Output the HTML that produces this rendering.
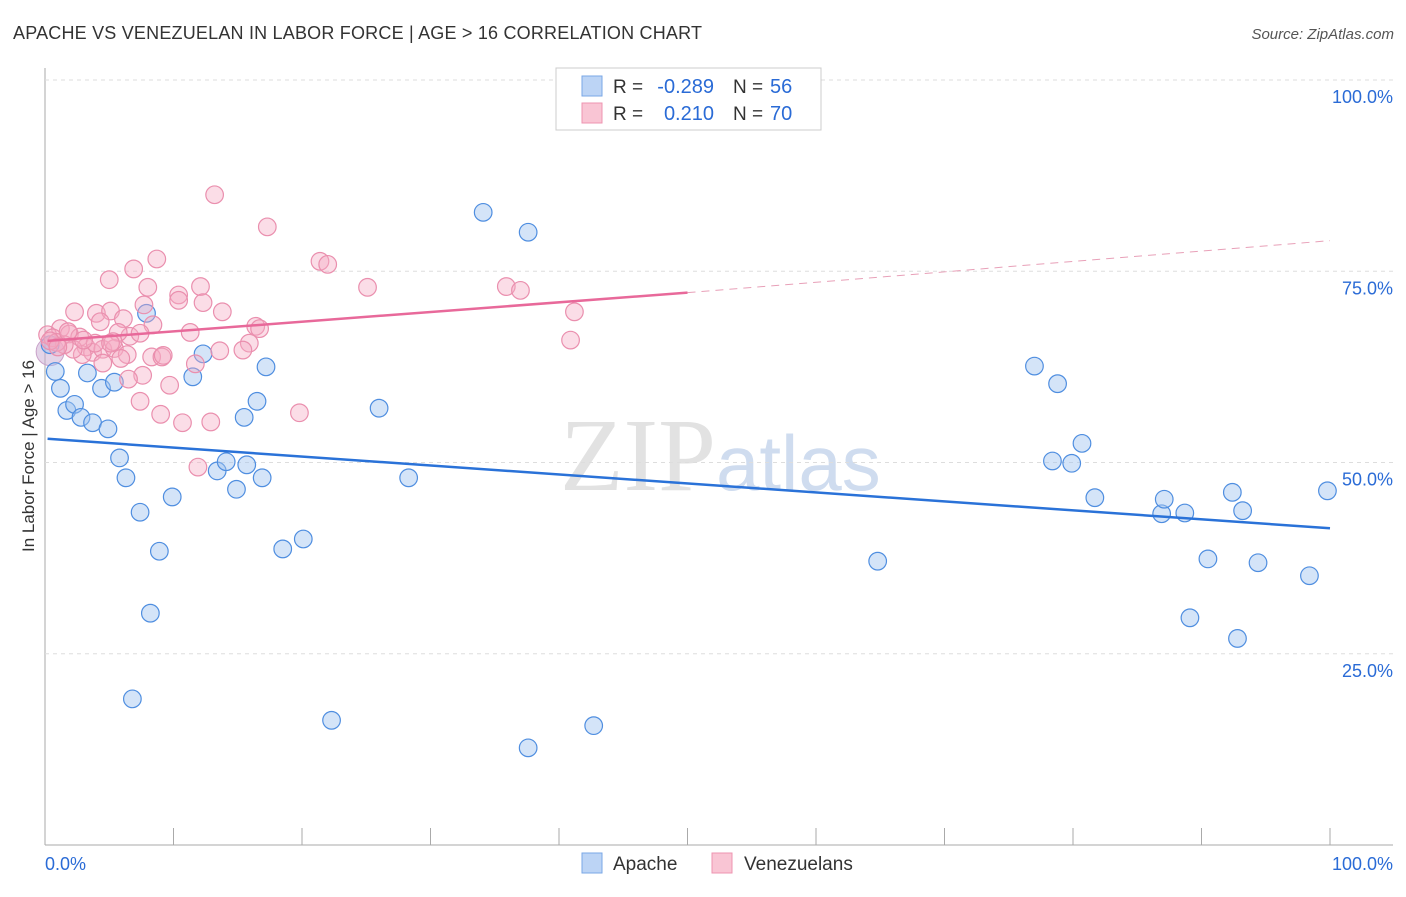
<!DOCTYPE html>
<html><head><meta charset="utf-8"><style>
body{margin:0;background:#fff;font-family:"Liberation Sans",sans-serif}
</style></head><body>
<svg id="c" width="1406" height="892" xmlns="http://www.w3.org/2000/svg">
<text x="13" y="39" font-size="18" fill="#333" textLength="689">APACHE VS VENEZUELAN IN LABOR FORCE | AGE &gt; 16 CORRELATION CHART</text>
<text x="1394" y="39" font-size="15" fill="#555" font-style="italic" text-anchor="end">Source: ZipAtlas.com</text>
<text x="716" y="490" font-size="104" fill="#e2e2e2" text-anchor="end" font-family="Liberation Serif,serif">ZIP</text>
<text x="716" y="490" font-size="78" fill="#cfdcef">atlas</text>
<g id="grid"></g>
<g id="pts"></g>
<g id="lines"></g>
<text transform="translate(34,456) rotate(-90)" font-size="17" fill="#333" text-anchor="middle">In Labor Force | Age &gt; 16</text>
<g>
<rect x="556" y="68" width="265" height="62" fill="#fff" stroke="#ccc"/>
<rect x="582" y="76" width="20" height="20" fill="#bcd4f5" stroke="#7aa7e6"/>
<rect x="582" y="103" width="20" height="20" fill="#f9c5d4" stroke="#ee94b0"/>
<text x="613" y="93" font-size="19" fill="#333">R =</text>
<text x="714" y="93" font-size="20" fill="#2a6bd6" text-anchor="end">-0.289</text>
<text x="733" y="93" font-size="19" fill="#333">N =</text>
<text x="770" y="93" font-size="20" fill="#2a6bd6">56</text>
<text x="613" y="120" font-size="19" fill="#333">R =</text>
<text x="714" y="120" font-size="20" fill="#2a6bd6" text-anchor="end">0.210</text>
<text x="733" y="120" font-size="19" fill="#333">N =</text>
<text x="770" y="120" font-size="20" fill="#2a6bd6">70</text>
</g>
<g>
<rect x="582" y="853" width="20" height="20" fill="#bcd4f5" stroke="#7aa7e6"/>
<text x="613" y="870" font-size="19" fill="#333">Apache</text>
<rect x="712" y="853" width="20" height="20" fill="#f9c5d4" stroke="#ee94b0"/>
<text x="744" y="870" font-size="19" fill="#333">Venezuelans</text>
</g>
<text x="45" y="870" font-size="18" fill="#2a6bd6">0.0%</text>
<text x="1393" y="870" font-size="18" fill="#2a6bd6" text-anchor="end">100.0%</text>
</svg>
<script>
const yTicks=[100,75,50,25];
const yTickLabels=["100.0%","75.0%","50.0%","25.0%"];
const xTicks=[0,10,20,30,40,50,60,70,80,90,100];
const apacheX=[0.8,1.2,1.7,2.3,2.8,3.3,3.7,4.4,4.9,5.4,5.8,6.3,7.4,7.9,8.2,8.9,9.9,11.5,12.3,13.4,14.1,14.9,15.5,15.7,16.5,16.9,17.2,18.5,20.1,22.3,6.8,26.0,28.3,34.1,37.6,37.6,42.7,64.8,77.0,78.4,78.8,79.9,80.7,81.7,86.9,87.1,88.7,89.1,90.5,92.4,92.8,93.2,94.4,98.4,99.8,0.4];
const apacheY=[61.9,59.7,56.8,57.6,55.9,61.7,55.2,59.7,54.4,60.5,50.6,48.0,43.5,69.5,30.3,38.4,45.5,61.2,64.2,48.9,50.1,46.5,55.9,49.7,58.0,48.0,62.5,38.7,40.0,16.3,19.1,57.1,48.0,82.7,80.1,12.7,15.6,37.1,62.6,50.2,60.3,49.9,52.5,45.4,43.3,45.2,43.4,29.7,37.4,46.1,27.0,43.7,36.9,35.2,46.3,65.4];
const venX=[13.2,17.3,8.7,6.9,5.0,21.4,22.0,25.1,35.9,37.0,12.1,8.0,10.4,10.4,12.3,7.7,13.8,2.3,4.0,5.1,6.1,8.4,4.3,16.4,16.7,11.3,1.2,1.9,0.2,0.6,2.7,6.6,5.7,41.2,40.9,15.9,15.4,13.6,3.2,3.7,4.5,5.4,6.4,8.3,9.1,9.2,11.7,4.5,5.9,2.9,2.2,1.5,0.9,0.4,7.6,6.5,9.7,7.4,19.8,12.9,9.0,10.7,11.9,5.3,7.4,1.0,3.9,1.8,3.0,5.1];
const venY=[85.0,80.8,76.6,75.3,73.9,76.3,75.9,72.9,73.0,72.5,73.0,72.9,71.9,71.2,70.9,70.6,69.7,69.7,69.5,69.8,68.8,68.0,68.4,67.8,67.5,67.0,67.5,66.8,66.7,66.3,66.4,66.5,67.0,69.7,66.0,65.6,64.7,64.6,65.1,64.4,64.8,64.9,64.1,63.8,63.8,64.0,62.9,63.0,63.6,64.1,64.8,65.4,65.7,65.9,61.4,60.9,60.1,58.0,56.5,55.3,56.3,55.2,49.4,65.8,66.9,65.1,65.6,67.1,66.0,65.6];
const blueTrend=[[0.2,53.1],[100,41.4]];
const pinkTrend=[[0.2,65.9],[50,72.2],[100,79.0]];
const sx=v=>45+v*12.85, sy=v=>845-v*7.65;
const NS="http://www.w3.org/2000/svg";
function mk(t,a,p){const e=document.createElementNS(NS,t);for(const k in a)e.setAttribute(k,a[k]);p.appendChild(e);return e;}
const g=document.getElementById('grid'),P=document.getElementById('pts'),L=document.getElementById('lines');
let ax=mk('line',{x1:45,y1:68,x2:45,y2:845,stroke:'#aaa'},g);


let bx=mk('line',{x1:45,y1:845,x2:1393,y2:845,stroke:'#aaa'},g);


yTicks.forEach((v,i)=>{
 let l=mk('line',{x1:45,y1:sy(v),x2:1393,y2:sy(v),stroke:'#ddd','stroke-dasharray':'4,4'},g);
 
 
 let t=mk('text',{x:1393,y:sy(v)+23,'font-size':18,fill:'#2a6bd6','text-anchor':'end'},g);t.textContent=yTickLabels[i];
 
 
});
xTicks.forEach(v=>{let l=mk('line',{x1:sx(v),y1:828,x2:sx(v),y2:845,stroke:'#aaa'},g);
 
 });
mk('circle',{cx:sx(0.4),cy:sy(64.5),r:14,fill:'rgba(200,170,210,0.5)',stroke:'#c8a0c8'},P);
apacheX.forEach((x,i)=>{let c=mk('circle',{cx:sx(x),cy:sy(apacheY[i]),r:8.8,fill:'rgba(160,195,240,0.45)',stroke:'#4f8ee0','stroke-width':1.2},P);
 
 });
venX.forEach((x,i)=>{let c=mk('circle',{cx:sx(x),cy:sy(venY[i]),r:8.8,fill:'rgba(245,170,195,0.4)',stroke:'#ea8fae','stroke-width':1.2},P);
 
 });
let bl=mk('line',{x1:sx(blueTrend[0][0]),y1:sy(blueTrend[0][1]),x2:sx(blueTrend[1][0]),y2:sy(blueTrend[1][1]),stroke:'#2a72d8','stroke-width':2.5},L);


let pl=mk('line',{x1:sx(pinkTrend[0][0]),y1:sy(pinkTrend[0][1]),x2:sx(pinkTrend[1][0]),y2:sy(pinkTrend[1][1]),stroke:'#e8699a','stroke-width':2.5},L);


let pd=mk('line',{x1:sx(pinkTrend[1][0]),y1:sy(pinkTrend[1][1]),x2:sx(pinkTrend[2][0]),y2:sy(pinkTrend[2][1]),stroke:'#e8a0b8','stroke-width':1,'stroke-dasharray':'8,6'},L);


</script>
</body></html>
